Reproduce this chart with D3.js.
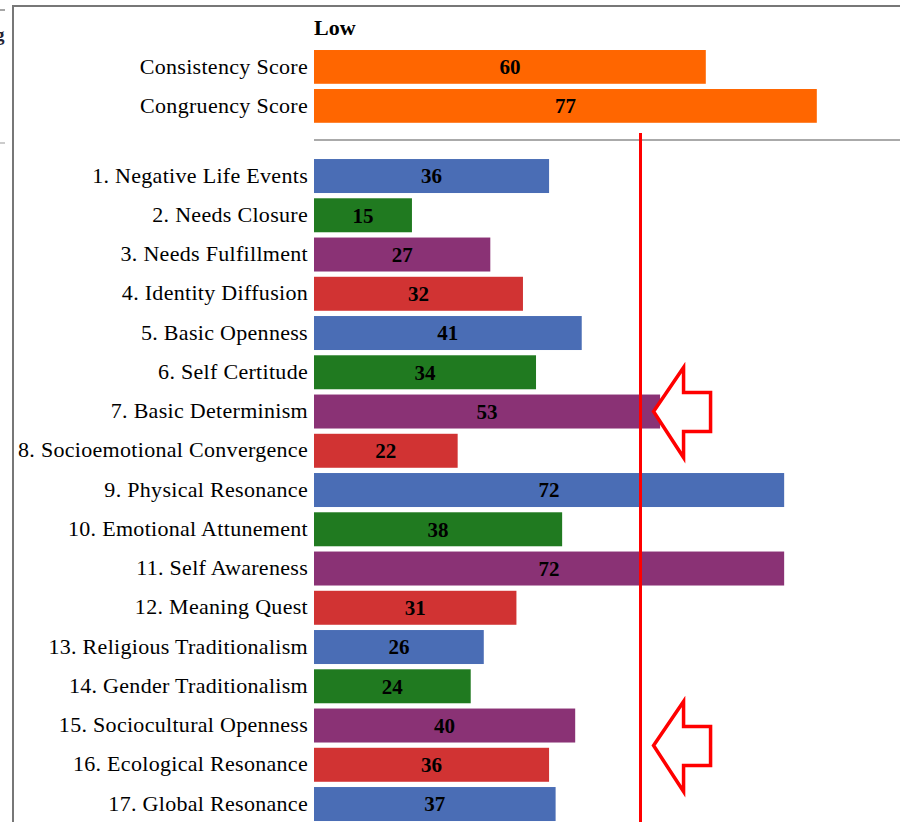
<!DOCTYPE html>
<html>
<head>
<meta charset="utf-8">
<script src="https://cdn.jsdelivr.net/npm/d3@7"></script>
<style>
  body { margin: 0; background: #fff; }
  svg { display: block; font-family: "Liberation Serif", "Times New Roman", serif; }
</style>
</head>
<body>
<script>
const summaryNames = ['Consistency Score', 'Congruency Score'];
const summaryValues = [60, 77];

const scaleNames = [
  '1. Negative Life Events', '2. Needs Closure', '3. Needs Fulfillment',
  '4. Identity Diffusion', '5. Basic Openness', '6. Self Certitude',
  '7. Basic Determinism', '8. Socioemotional Convergence', '9. Physical Resonance',
  '10. Emotional Attunement', '11. Self Awareness', '12. Meaning Quest',
  '13. Religious Traditionalism', '14. Gender Traditionalism',
  '15. Sociocultural Openness', '16. Ecological Resonance', '17. Global Resonance'
];
const scaleValues = [36, 15, 27, 32, 41, 34, 53, 22, 72, 38, 72, 31, 26, 24, 40, 36, 37];

const cutoff = 50;
const arrowRows = ['7. Basic Determinism', '15. Sociocultural Openness'];
const arrowShift = [0, 20];
const arrowValue = 52;

const summaryColor = '#ff6600';
const cycleColors = ['#4a6db5', '#207a20', '#8a3275', '#d13333'];

const w = 900;
const h = 822;

const svg = d3.select('body')
  .append('svg')
  .attr('width', w)
  .attr('height', h);

// frame bits from the screenshot
svg.append('line').attr('x1', 13).attr('x2', w).attr('y1', 6).attr('y2', 6)
  .attr('stroke', '#777').attr('stroke-width', 2);
svg.append('line').attr('x1', 13).attr('x2', 13).attr('y1', 5).attr('y2', h)
  .attr('stroke', '#777').attr('stroke-width', 2);
svg.append('line').attr('x1', 0).attr('x2', 5).attr('y1', 10).attr('y2', 10)
  .attr('stroke', '#888').attr('stroke-width', 1.5);
svg.append('line').attr('x1', 0).attr('x2', 5).attr('y1', 143).attr('y2', 143)
  .attr('stroke', '#bbb').attr('stroke-width', 1.5);
svg.append('text').attr('x', -5).attr('y', 41).text('g')
  .attr('font-weight', 'bold').attr('font-size', 19).attr('fill', '#223');

const xScale = d3.scaleLinear().domain([0, 100]).range([314, 967]);

const yTop = d3.scaleBand().domain(summaryNames)
  .range([47.4, 47.4 + 39 * 2]).paddingInner(0.134).paddingOuter(0.067);
const yMain = d3.scaleBand().domain(scaleNames)
  .range([156.4, 156.4 + 39.25 * 17]).paddingInner(0.134).paddingOuter(0.067);

// "Low" heading
svg.append('text')
  .attr('x', xScale(0))
  .attr('y', 35)
  .attr('font-size', 22)
  .attr('font-weight', 'bold')
  .text('Low');

// separator
svg.append('line')
  .attr('x1', xScale(0)).attr('x2', w)
  .attr('y1', 140).attr('y2', 140)
  .attr('stroke', '#aaa').attr('stroke-width', 2);

const drawGroup = (names, values, yScale, colorOf) => {
  const data = names.map((n, i) => ({ name: n, value: values[i], i: i }));
  const g = svg.append('g');
  g.selectAll('rect')
    .data(data)
    .enter()
    .append('rect')
    .attr('x', xScale(0))
    .attr('y', (d) => yScale(d.name))
    .attr('width', (d) => xScale(d.value) - xScale(0))
    .attr('height', yScale.bandwidth())
    .attr('fill', (d) => colorOf(d.i));
  g.selectAll('.val')
    .data(data)
    .enter()
    .append('text')
    .attr('class', 'val')
    .attr('x', (d) => (xScale(0) + xScale(d.value)) / 2)
    .attr('y', (d) => yScale(d.name) + yScale.bandwidth() / 2)
    .attr('dy', '0.35em')
    .attr('text-anchor', 'middle')
    .attr('font-size', 21)
    .attr('font-weight', 'bold')
    .text((d) => d.value);
  g.selectAll('.lab')
    .data(data)
    .enter()
    .append('text')
    .attr('class', 'lab')
    .attr('x', xScale(0) - 6)
    .attr('y', (d) => yScale(d.name) + yScale.bandwidth() / 2)
    .attr('dy', '0.3em')
    .attr('text-anchor', 'end')
    .attr('font-size', 22)
    .attr('letter-spacing', 0.3)
    .text((d) => d.name);
};

drawGroup(summaryNames, summaryValues, yTop, () => summaryColor);
drawGroup(scaleNames, scaleValues, yMain, (i) => cycleColors[i % 4]);

// cutoff line
svg.append('line')
  .attr('x1', xScale(cutoff)).attr('x2', xScale(cutoff))
  .attr('y1', 133).attr('y2', h)
  .attr('stroke', '#ff0000').attr('stroke-width', 3);

// arrows
const arrowShape = [[0, 0], [30, -44], [30, -19], [57, -19], [57, 20], [30, 20], [30, 46]];
arrowRows.forEach((row, i) => {
  const tx = xScale(arrowValue);
  const ty = yMain(row) + yMain.bandwidth() / 2 + arrowShift[i];
  svg.append('path')
    .attr('d', d3.line()(arrowShape.map((p) => [tx + p[0], ty + p[1]])) + 'Z')
    .attr('fill', '#fff')
    .attr('stroke', '#ff0000')
    .attr('stroke-width', 3.5);
});
</script>
</body>
</html>
